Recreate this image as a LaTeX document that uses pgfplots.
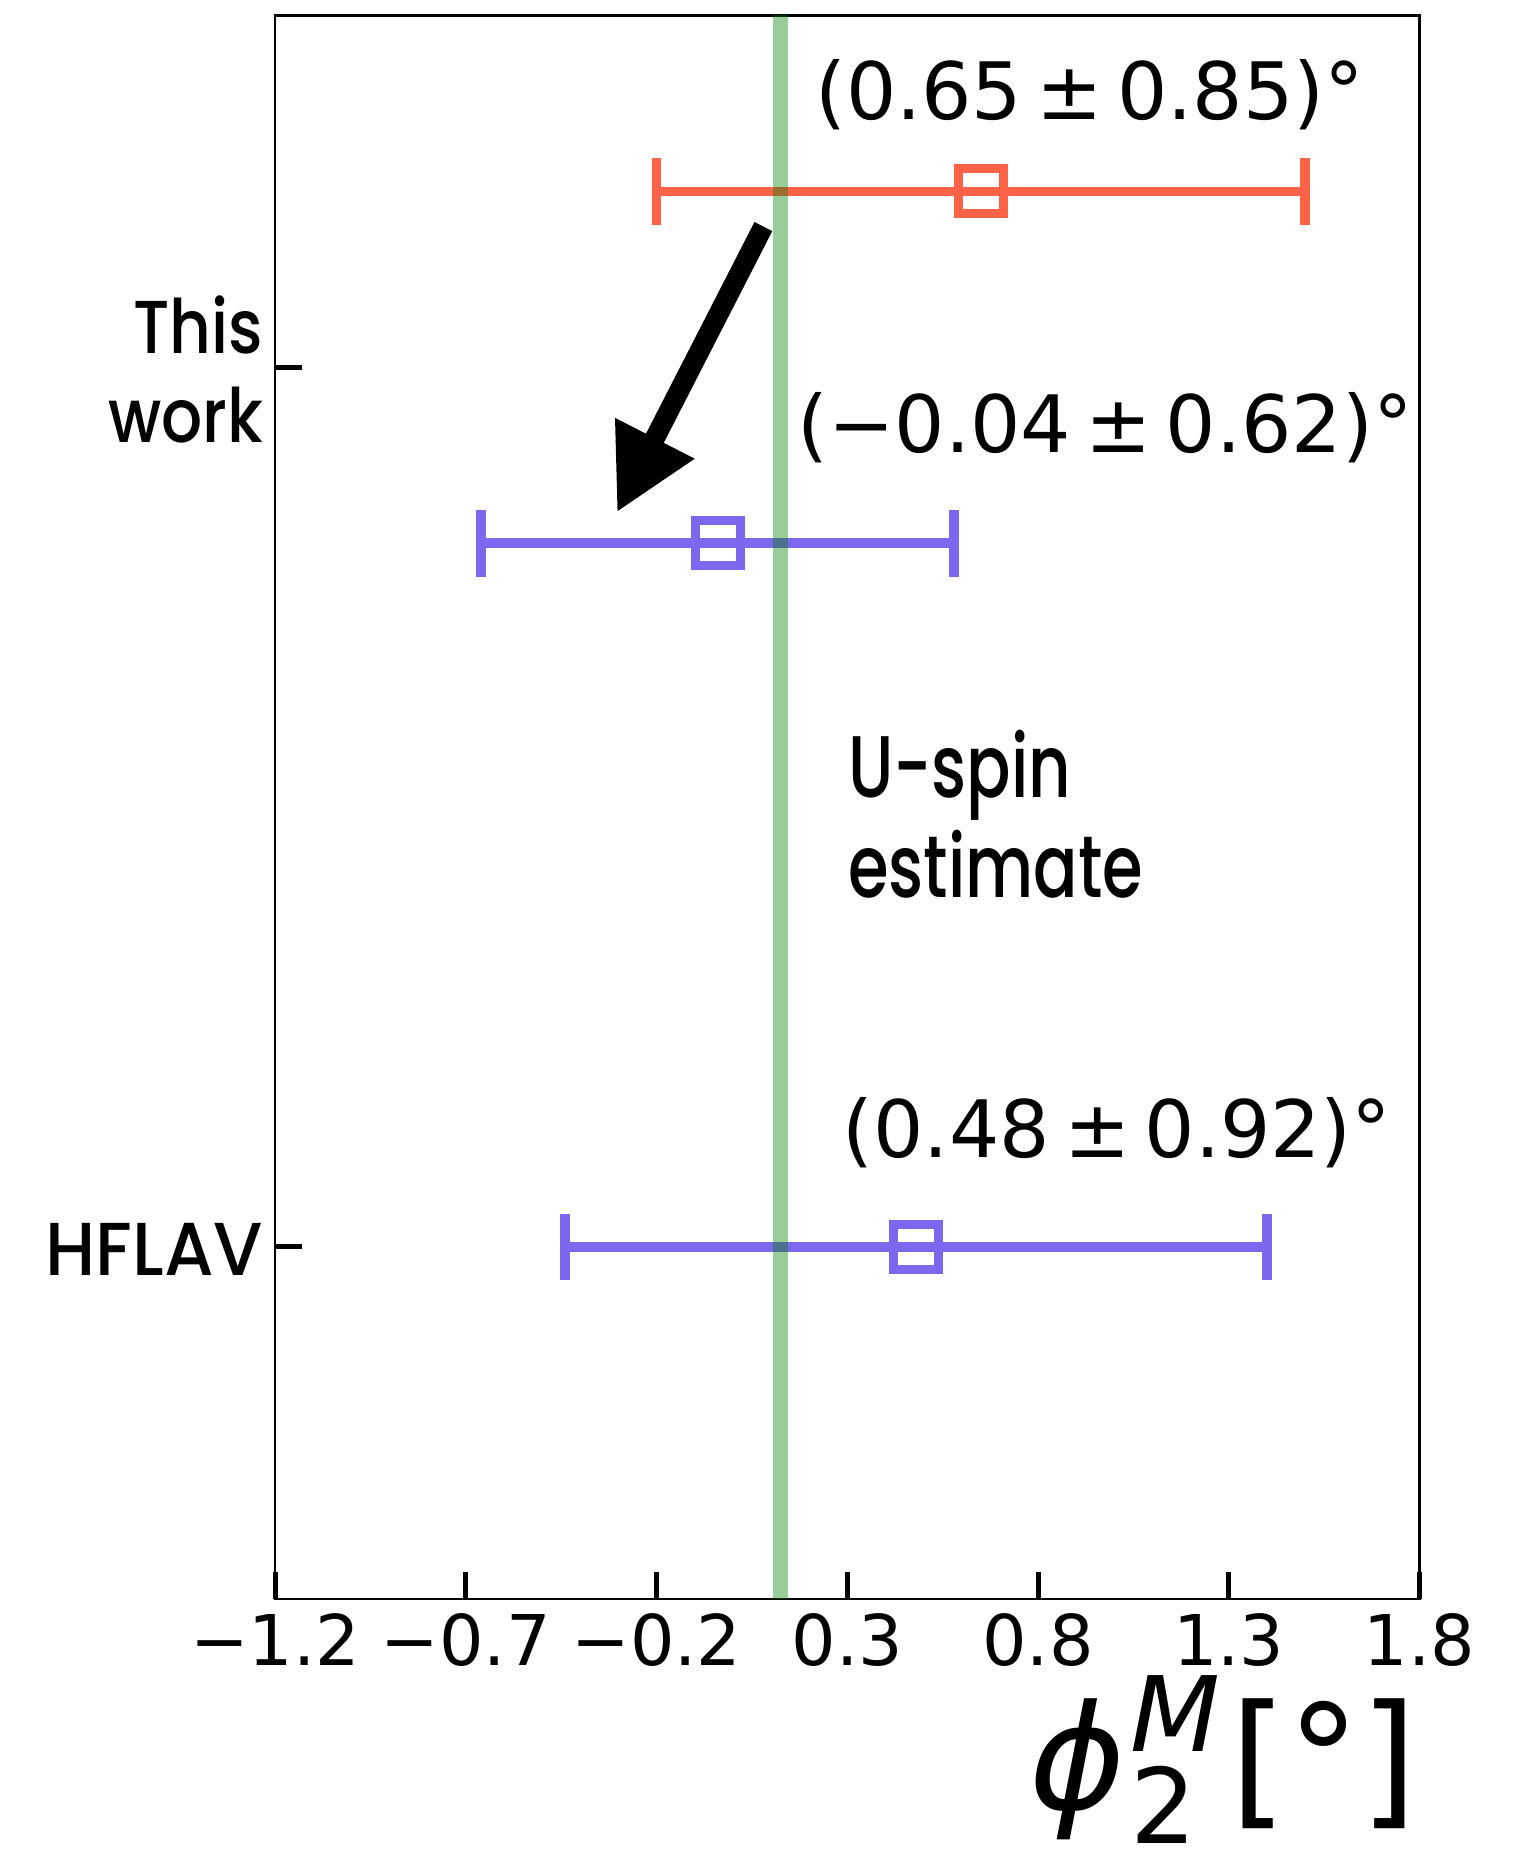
\documentclass[border=0pt]{standalone}
\usepackage{fontspec}
\setmainfont{DejaVu Sans}
\newfontfamily\geoH{Poppins Medium}[FakeStretch=0.95]
\newfontfamily\geo{Poppins Medium}[FakeStretch=0.86]
\newfontfamily\geoU{Poppins Medium}[FakeStretch=0.75]
\usepackage{pgfplots}
\pgfplotsset{compat=1.18}
\usetikzlibrary{arrows.meta}

\definecolor{tomato}{RGB}{255,99,71}
\definecolor{mslate}{RGB}{123,104,238}
\definecolor{mplgreen}{RGB}{0,128,0}

\newcommand{\annfont}{\fontsize{19}{22}\selectfont}
\newcommand{\plusminus}{\hspace{0.18em}±\hspace{0.18em}}

\begin{document}
\begin{tikzpicture}
\begin{axis}[
  scale only axis,
  width=274.7pt, height=380pt,
  xmin=-1.2, xmax=1.8, ymin=-0.4, ymax=1.4,
  clip=false,
  axis line style={line width=0.6pt},
  xtick={-1.2,-0.7,-0.2,0.3,0.8,1.3,1.8},
  xticklabels={−1.2,−0.7,−0.2,0.3,0.8,1.3,1.8},
  ytick={0,1},
  yticklabels={{\geoH HFLAV},{\geo This\\\geo work}},
  xtick pos=bottom, ytick pos=left,
  tick align=inside,
  major tick length=6.5pt,
  tick style={line width=1.2pt, black},
  xticklabel style={font=\fontsize{16.8}{19}\selectfont, inner sep=0pt, yshift=-3.4pt},
  yticklabel style={font=\fontsize{18}{21.4}\selectfont, align=right, inner sep=0pt, xshift=-2.6pt, yshift=-0.5pt},
]
% measured values with symmetric uncertainties
\addplot[only marks, tomato, mark=square, mark size=5.4pt, mark options={line width=2.2pt},
  error bars/.cd, x dir=both, x explicit,
  error bar style={line width=2.3pt, tomato},
  error mark options={rotate=90, line width=2.3pt, mark size=8pt, tomato}]
  coordinates {(0.65,1.2) +- (0.85,0)};
\addplot[only marks, mslate, mark=square, mark size=5.4pt, mark options={line width=2.2pt},
  error bars/.cd, x dir=both, x explicit,
  error bar style={line width=2.3pt, mslate},
  error mark options={rotate=90, line width=2.3pt, mark size=8pt, mslate}]
  coordinates {(-0.04,0.8) +- (0.62,0) (0.48,0.0) +- (0.92,0)};
% U-spin estimate
\addplot[mplgreen, opacity=0.4, line width=3.5pt, forget plot] coordinates {(0.125,-0.4) (0.125,1.4)};

\draw[line width=4.8pt, -{Triangle[length=20pt,width=20pt]}]
  (axis cs:0.08,1.16) -- (axis cs:-0.304,0.835);

\node[font=\annfont] at (axis cs:0.935,1.31) {(0.65\plusminus0.85)°};
\node[font=\annfont] at (axis cs:0.976,0.931) {(−0.04\plusminus0.62)°};
\node[font=\annfont] at (axis cs:1.007,0.130) {(0.48\plusminus0.92)°};

\node[font=\geoU\fontsize{21}{24}\selectfont, align=left, anchor=west, inner sep=0pt]
  at (axis cs:0.3,0.492) {U-spin\\estimate};

\node[anchor=base east, inner sep=0pt, font=\fontsize{35}{35}\selectfont]
  at ([xshift=-0.3pt,yshift=-50.6pt]rel axis cs:1,0)
  {{\itshape ϕ}\kern1.2pt\rlap{\raisebox{-8.2pt}{\fontsize{25}{25}\selectfont 2}}\raisebox{14pt}{\fontsize{25}{25}\selectfont\itshape M}\kern2.4pt[°]};
\end{axis}
\pgfresetboundingbox
\path[use as bounding box] (-66pt,-64.6pt) rectangle (299pt,383.7pt);
\end{tikzpicture}
\end{document}
